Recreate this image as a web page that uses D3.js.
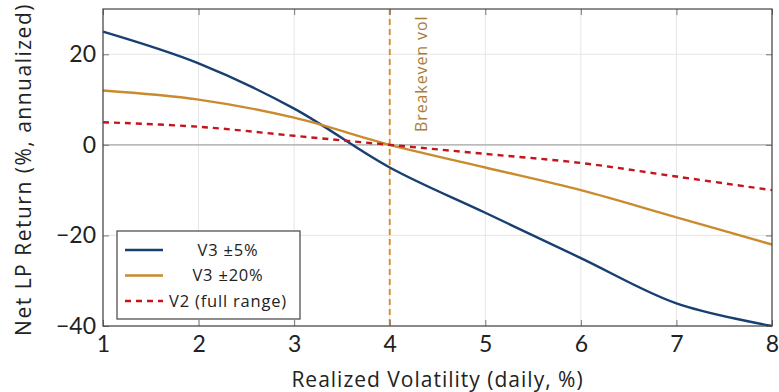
<!DOCTYPE html>
<html>
<head>
<meta charset="utf-8">
<script src="https://cdn.jsdelivr.net/npm/d3@7"></script>
<style>
  body { margin: 0; background: #fff; }
  text { font-family: "Open Sans", Lato, sans-serif; fill: #222; }
</style>
</head>
<body>
<div id="chart"></div>
<script>
// data
const vols = [1, 2, 3, 4, 5, 6, 7, 8];
const v3Narrow = [25, 18, 8, -5, -15, -25, -35, -40];
const v3Wide = [12, 10, 6, 0, -5, -10, -16, -22];
const v2Full = [5, 4, 2, 0, -2, -4, -7, -10];
const xTicks = [1, 2, 3, 4, 5, 6, 7, 8];
const yTicks = [-40, -20, 0, 20];
const breakevenVol = 4;

const seriesList = [
  { name: 'V3 \u00b15%', values: v3Narrow, color: '#173f72', dash: null },
  { name: 'V3 \u00b120%', values: v3Wide, color: '#c98b2e', dash: null },
  { name: 'V2 (full range)', values: v2Full, color: '#c4141c', dash: '6,5' }
];

const width = 779, height = 392;
const margin = { left: 103, right: 7, top: 9, bottom: 66 };

const svg = d3.select('#chart')
  .append('svg')
    .attr('width', width)
    .attr('height', height);

const x = d3.scaleLinear()
  .domain([1, 8])
  .range([margin.left, width - margin.right]);

const y = d3.scaleLinear()
  .domain([-40, 30])
  .range([height - margin.bottom, margin.top]);

// grid
svg.append('g')
  .selectAll('line')
  .data(xTicks)
  .enter()
  .append('line')
    .attr('x1', d => x(d)).attr('x2', d => x(d))
    .attr('y1', y.range()[1]).attr('y2', y.range()[0])
    .attr('stroke', '#e6e6e6').attr('stroke-width', 1);

svg.append('g')
  .selectAll('line')
  .data(yTicks)
  .enter()
  .append('line')
    .attr('x1', x.range()[0]).attr('x2', x.range()[1])
    .attr('y1', d => y(d)).attr('y2', d => y(d))
    .attr('stroke', '#e6e6e6').attr('stroke-width', 1);

// zero line
svg.append('line')
  .attr('x1', x.range()[0]).attr('x2', x.range()[1])
  .attr('y1', y(0)).attr('y2', y(0))
  .attr('stroke', '#a8a8a8').attr('stroke-width', 1.4);

// breakeven marker
svg.append('line')
  .attr('x1', x(breakevenVol)).attr('x2', x(breakevenVol))
  .attr('y1', y.range()[1]).attr('y2', y.range()[0])
  .attr('stroke', '#d8891f').attr('stroke-width', 1.8)
  .attr('stroke-dasharray', '6,4');

svg.append('text')
  .attr('transform', 'translate(' + (x(breakevenVol) + 37) + ',' + 132 + ') rotate(-90)')
  .style('font-size', '16px')
  .style('letter-spacing', '0.9px')
  .style('fill', '#a97e3c')
  .text('Breakeven vol');

// lines
const line = d3.line()
  .x((d, i) => x(vols[i]))
  .y(d => y(d))
  .curve(d3.curveCatmullRom.alpha(0.5));

svg.append('g')
  .selectAll('path')
  .data(seriesList)
  .enter()
  .append('path')
    .attr('d', d => line(d.values))
    .attr('fill', 'none')
    .attr('stroke', d => d.color)
    .attr('stroke-width', 2.4)
    .attr('stroke-dasharray', d => d.dash);

// axes, ticks inside on all four sides
const tickLen = 6;
const xAxisBottom = d3.axisBottom(x).tickValues(xTicks).tickSize(-tickLen).tickPadding(10).tickFormat(d3.format('d'));
const xAxisTop = d3.axisTop(x).tickValues(xTicks).tickSize(-tickLen).tickFormat('');
const yAxisLeft = d3.axisLeft(y).tickValues(yTicks).tickSize(-tickLen).tickPadding(7)
  .tickFormat(d => d < 0 ? '\u2212' + Math.abs(d) : d);
const yAxisRight = d3.axisRight(y).tickValues(yTicks).tickSize(-tickLen).tickFormat('');

const axes = [
  svg.append('g').attr('transform', 'translate(0,' + y.range()[0] + ')').call(xAxisBottom),
  svg.append('g').attr('transform', 'translate(0,' + y.range()[1] + ')').call(xAxisTop),
  svg.append('g').attr('transform', 'translate(' + x.range()[0] + ',0)').call(yAxisLeft),
  svg.append('g').attr('transform', 'translate(' + x.range()[1] + ',0)').call(yAxisRight)
];
axes.forEach(g => {
  g.select('.domain').remove();
  g.selectAll('.tick line').attr('stroke', '#777').attr('stroke-width', 1);
  g.selectAll('.tick text').style('font-size', '23px').style('font-family', 'Lato, sans-serif').attr('fill', '#222');
});

// frame
svg.append('rect')
  .attr('x', x.range()[0]).attr('y', y.range()[1])
  .attr('width', x.range()[1] - x.range()[0])
  .attr('height', y.range()[0] - y.range()[1])
  .attr('fill', 'none')
  .attr('stroke', '#444')
  .attr('stroke-width', 1.2);

// axis labels
svg.append('text')
  .attr('x', (x.range()[0] + x.range()[1]) / 2)
  .attr('y', 387)
  .attr('text-anchor', 'middle')
  .style('font-size', '21px')
  .style('letter-spacing', '1px')
  .text('Realized Volatility (daily, %)');

svg.append('text')
  .attr('transform', 'translate(31,' + ((y.range()[0] + y.range()[1]) / 2 + 2) + ') rotate(-90)')
  .attr('text-anchor', 'middle')
  .style('font-size', '21px')
  .style('letter-spacing', '1.5px')
  .text('Net LP Return (%, annualized)');

// legend
const legend = svg.append('g').attr('transform', 'translate(117,231)');
legend.append('rect')
  .attr('width', 183).attr('height', 88)
  .attr('fill', '#fff')
  .attr('stroke', '#444').attr('stroke-width', 1.2);

const items = legend.selectAll('g.item')
  .data(seriesList)
  .enter()
  .append('g')
    .attr('class', 'item')
    .attr('transform', (d, i) => 'translate(0,' + (19 + i * 25.5) + ')');

items.append('line')
  .attr('x1', 8).attr('x2', 46)
  .attr('stroke', d => d.color)
  .attr('stroke-width', 2.4)
  .attr('stroke-dasharray', d => d.dash);

items.append('text')
  .attr('x', 111)
  .attr('dy', '0.35em')
  .attr('text-anchor', 'middle')
  .style('font-size', '16.5px')
  .style('letter-spacing', '0.8px')
  .text(d => d.name);
</script>
</body>
</html>
